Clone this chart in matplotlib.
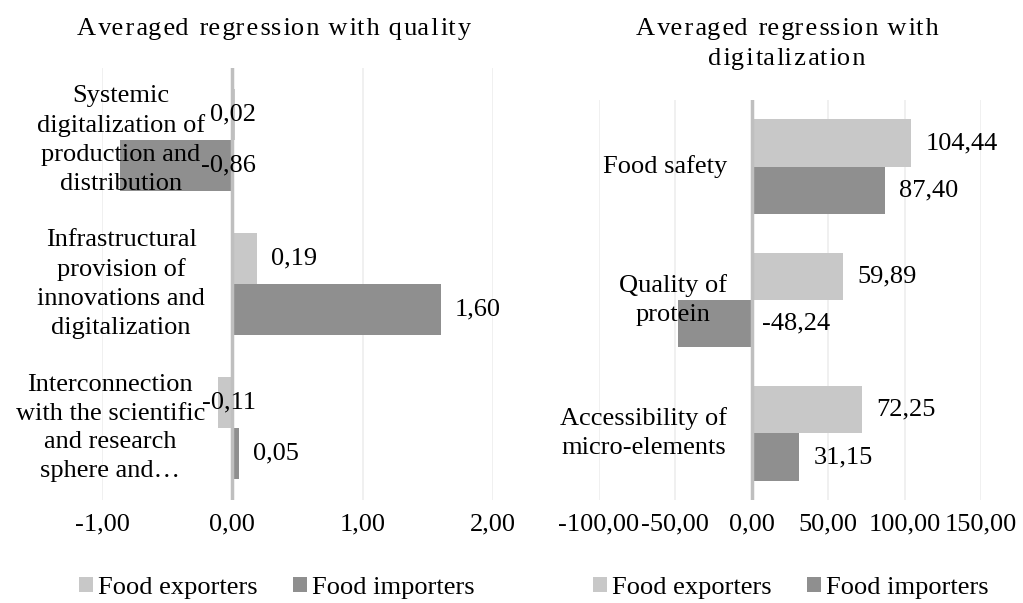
"""
Averaged regression bar charts: quality vs digitalization,
food exporters vs food importers (two horizontal bar panels).
"""

import matplotlib
matplotlib.use("Agg")
import matplotlib.pyplot as plt
from matplotlib.patches import Patch
from matplotlib.transforms import blended_transform_factory

# ── data ──
LEFT_CATS = [
    "Systemic\ndigitalization of\nproduction and\ndistribution",
    "Infrastructural\nprovision of\ninnovations and\ndigitalization",
    "Interconnection\nwith the scientific\nand research\nsphere and…",
]
LEFT_EXPORTERS = [0.02, 0.19, -0.11]
LEFT_IMPORTERS = [-0.86, 1.60, 0.05]
LEFT_TICKS = [-1, 0, 1, 2]

RIGHT_CATS = [
    "Food safety",
    "Quality of\nprotein",
    "Accessibility of\nmicro-elements",
]
RIGHT_EXPORTERS = [104.44, 59.89, 72.25]
RIGHT_IMPORTERS = [87.40, -48.24, 31.15]
RIGHT_TICKS = [-100, -50, 0, 50, 100, 150]

SERIES = ["Food exporters", "Food importers"]

# ── style ──
C_EXP = "#C8C8C8"
C_IMP = "#8F8F8F"
C_GRID = "#EDEDED"
C_ZERO = "#BFBFBF"
FS = 19
BAR_H = 0.355
HAIR = "\u200a"

W, H = 1023, 603
plt.rcParams["font.family"] = ["Liberation Serif", "DejaVu Serif"]
plt.rcParams["font.size"] = FS


def comma(v):
    return f"{v:.2f}".replace(".", ",")


def spaced(s):
    # Excel titles use expanded letter spacing: hair spaces in 3 of 5 gaps
    out = []
    for line in s.split("\n"):
        buf = ""
        for i, ch in enumerate(line):
            buf += ch
            if i < len(line) - 1 and i % 5 in (0, 2, 3):
                buf += HAIR
        out.append(buf)
    return "\n".join(out)


def draw_panel(ax, cats, exp, imp, ticks, cat_x, small_rule):
    ys = list(range(len(cats)))
    ax.barh([y - BAR_H / 2 for y in ys], exp, height=BAR_H, color=C_EXP, zorder=2)
    ax.barh([y + BAR_H / 2 for y in ys], imp, height=BAR_H, color=C_IMP, zorder=2)

    ax.set_xlim(ticks[0], ticks[-1])
    ax.set_ylim(len(cats) - 0.5, -0.5)
    ax.set_xticks(ticks)
    ax.set_xticklabels([comma(t) for t in ticks])
    ax.set_yticks([])
    ax.tick_params(axis="x", length=0, pad=10)
    ax.grid(axis="x", color=C_GRID, linewidth=1.2)
    ax.axvline(0, color=C_ZERO, linewidth=2.5, zorder=3)
    for s in ax.spines.values():
        s.set_visible(False)

    # category labels sit over the plot area in the original, on top of bars
    tr = blended_transform_factory(ax.transAxes, ax.transData)
    for y, c in zip(ys, cats):
        ax.text(cat_x, y, c, transform=tr, ha="right", va="center",
                multialignment="center", linespacing=1.4, zorder=5, clip_on=False)

    for offs, vals in ((-BAR_H / 2, exp), (BAR_H / 2, imp)):
        for y, v in zip(ys, vals):
            if small_rule(v):
                # label pinned near the axis, right-aligned
                ax.annotate(comma(v), (0, y + offs), xytext=(17, 0),
                            textcoords="offset points", ha="right", va="center",
                            zorder=4)
            elif v < 0:
                ax.annotate(comma(v), (0, y + offs), xytext=(7, 0),
                            textcoords="offset points", ha="left", va="center",
                            zorder=4)
            else:
                ax.annotate(comma(v), (v, y + offs), xytext=(10, 0),
                            textcoords="offset points", ha="left", va="center",
                            zorder=4)


def add_legend(fig, xc, yc):
    handles = [Patch(facecolor=C_EXP, edgecolor="none"),
               Patch(facecolor=C_IMP, edgecolor="none")]
    fig.legend(handles, SERIES, loc="center", bbox_to_anchor=(xc, yc), ncol=2,
               frameon=False, handlelength=0.53, handleheight=0.53,
               handletextpad=0.19, columnspacing=1.33, fontsize=FS)


def main():
    fig = plt.figure(figsize=(W / 100, H / 100), dpi=100)

    ax1 = fig.add_axes([102 / W, 1 - 500 / H, (493 - 102) / W, (500 - 68) / H])
    ax2 = fig.add_axes([599 / W, 1 - 500 / H, (981 - 599) / W, (500 - 100) / H])

    draw_panel(ax1, LEFT_CATS, LEFT_EXPORTERS, LEFT_IMPORTERS, LEFT_TICKS,
               cat_x=(205 - 102) / (493 - 102), small_rule=lambda v: v < 0.03)
    draw_panel(ax2, RIGHT_CATS, RIGHT_EXPORTERS, RIGHT_IMPORTERS, RIGHT_TICKS,
               cat_x=(727 - 599) / (981 - 599), small_rule=lambda v: False)

    fig.text(274 / W, 1 - 29 / H, spaced("Averaged regression with quality"),
             ha="center", va="center", fontsize=FS)
    fig.text(787 / W, 1 - 44 / H, spaced("Averaged regression with\ndigitalization"),
             ha="center", va="center", fontsize=FS, linespacing=1.45)

    add_legend(fig, 277 / W, 1 - 588 / H)
    add_legend(fig, 791 / W, 1 - 588 / H)

    fig.savefig("out.png", dpi=100)
    plt.close(fig)


if __name__ == "__main__":
    main()
